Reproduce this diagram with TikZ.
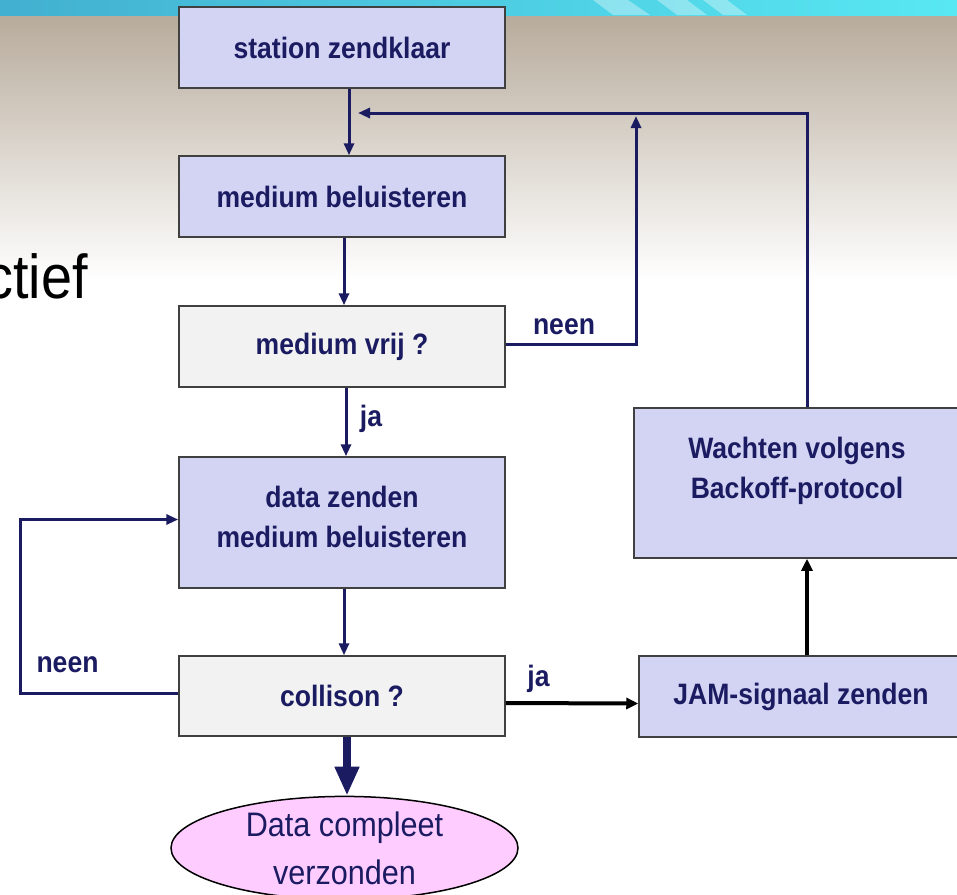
\documentclass[tikz,border=0pt]{standalone}
\usepackage{fontspec}
\setmainfont{Liberation Sans}[FakeStretch=0.9]
\usepackage{xcolor}
\usetikzlibrary{shapes.geometric,arrows.meta,positioning,calc}

\definecolor{navy}{HTML}{1B1B62}
\definecolor{boxblue}{HTML}{D3D3F3}
\definecolor{boxgrey}{HTML}{F2F2F2}
\definecolor{boxline}{HTML}{404040}
\definecolor{pinkfill}{HTML}{FFCCFF}
\definecolor{tanbg}{HTML}{B7AB9B}
\definecolor{bandleft}{HTML}{42B0D0}
\definecolor{bandright}{HTML}{58E8F3}

\begin{document}
\begin{tikzpicture}[
          x=1pt, y=-1pt,
          every node/.style={font=\fontsize{29.5}{40}\selectfont\bfseries, text=navy},
          box/.style={rectangle, draw=boxline, line width=1.5pt, fill=boxblue, minimum width=326pt, minimum height=81pt, inner sep=0pt},
          question/.style={box, fill=boxgrey},
          endstate/.style={ellipse, draw=black, line width=1.5pt, fill=pinkfill, minimum width=347pt, minimum height=102pt, inner sep=0pt, align=center, font=\fontsize{34}{48}\selectfont},
          plain/.style={inner sep=0pt, align=center},
          arrow/.style={-{Triangle[length=12pt,width=10pt]}, line width=3pt, navy},
          jamarrow/.style={-{Triangle[length=12pt,width=11pt]}, line width=4pt, black},
          bigarrow/.style={-{Triangle[length=29pt,width=23pt]}, line width=8pt, navy}
        ]
          \useasboundingbox (0,0) rectangle (957,894);

          % slide background
          \fill[white] (0,0) rectangle (957,894);
          \fill[top color=tanbg, bottom color=white] (0,15) rectangle (957,280);
          \fill[left color=bandleft, right color=bandright] (0,0) rectangle (957,15);
          \fill[white, opacity=0.35] (593,0) -- (628,0) -- (650,15) -- (613,15) -- cycle;
          \fill[white, opacity=0.35] (657,0) -- (687,0) -- (707,15) -- (677,15) -- cycle;
          \fill[white, opacity=0.35] (703,0) -- (727,0) -- (747,15) -- (723,15) -- cycle;
          \node[font=\fontsize{62}{70}\selectfont, text=black, inner sep=0pt, anchor=base east] (title) at (88,298) {ctief};

          % flow
          \node[box] (ready) at (342,47.5) {station zendklaar};
          \node[box] (listen) at (342,196.5) {medium beluisteren};
          \node[question] (free) at (342,346.5) {medium vrij ?};
          \node[box, minimum height=131pt] (send) at (342,522.5) {};
          \node[plain] (sendtxt) at (342,517) {data zenden\\medium beluisteren};
          \node[question, minimum height=80pt] (coll) at (342,696) {collison ?};
          \node[endstate] (done) at (344.5,848) {Data compleet\\verzonden};

          % collision branch
          \node[box, minimum width=324pt] (jam) at (801,696.5) {JAM-signaal zenden};
          \node[box, minimum height=150pt] (wait) at (797,483) {};
          \node[plain] (waittxt) at (797,471) {Wachten volgens\\Backoff-protocol};

          % labels
          \node[plain] (jafree) at (371,419) {ja};
          \node[plain] (neenfree) at (564,327) {neen};
          \node[plain] (neencoll) at (67.5,665) {neen};
          \node[plain] (jacoll) at (538.5,679) {ja};

          \coordinate (upturn) at (636,116);
          \coordinate (retry) at (358,113);
          \coordinate (loopcorner) at (20,693);

          \draw[arrow] ([xshift=7pt]ready.south) -- ([xshift=7pt]listen.north);
          \draw[arrow] ([xshift=2pt]listen.south) -- ([xshift=2pt]free.north);
          \draw[arrow] ([xshift=4pt]free.south) -- ([xshift=4pt]send.north);
          \draw[arrow] ([xshift=2pt]send.south) -- ([xshift=2pt]coll.north);
          \draw[bigarrow] ([xshift=5pt]coll.south) -- ([xshift=2.5pt]done.north);

          \draw[arrow] ([yshift=2pt]free.east) -| (upturn);
          \draw[arrow] ([xshift=10pt]wait.north) |- (retry);
          \draw[arrow] ([yshift=3pt]coll.west) -- (loopcorner) |- ([yshift=3pt]send.west);

          \draw[jamarrow] ([yshift=-7pt]coll.east) -- ([yshift=-7pt]jam.west);
          \draw[jamarrow] ([xshift=6pt]jam.north) -- ([xshift=10pt]wait.south);

        \end{tikzpicture}
\end{document}
